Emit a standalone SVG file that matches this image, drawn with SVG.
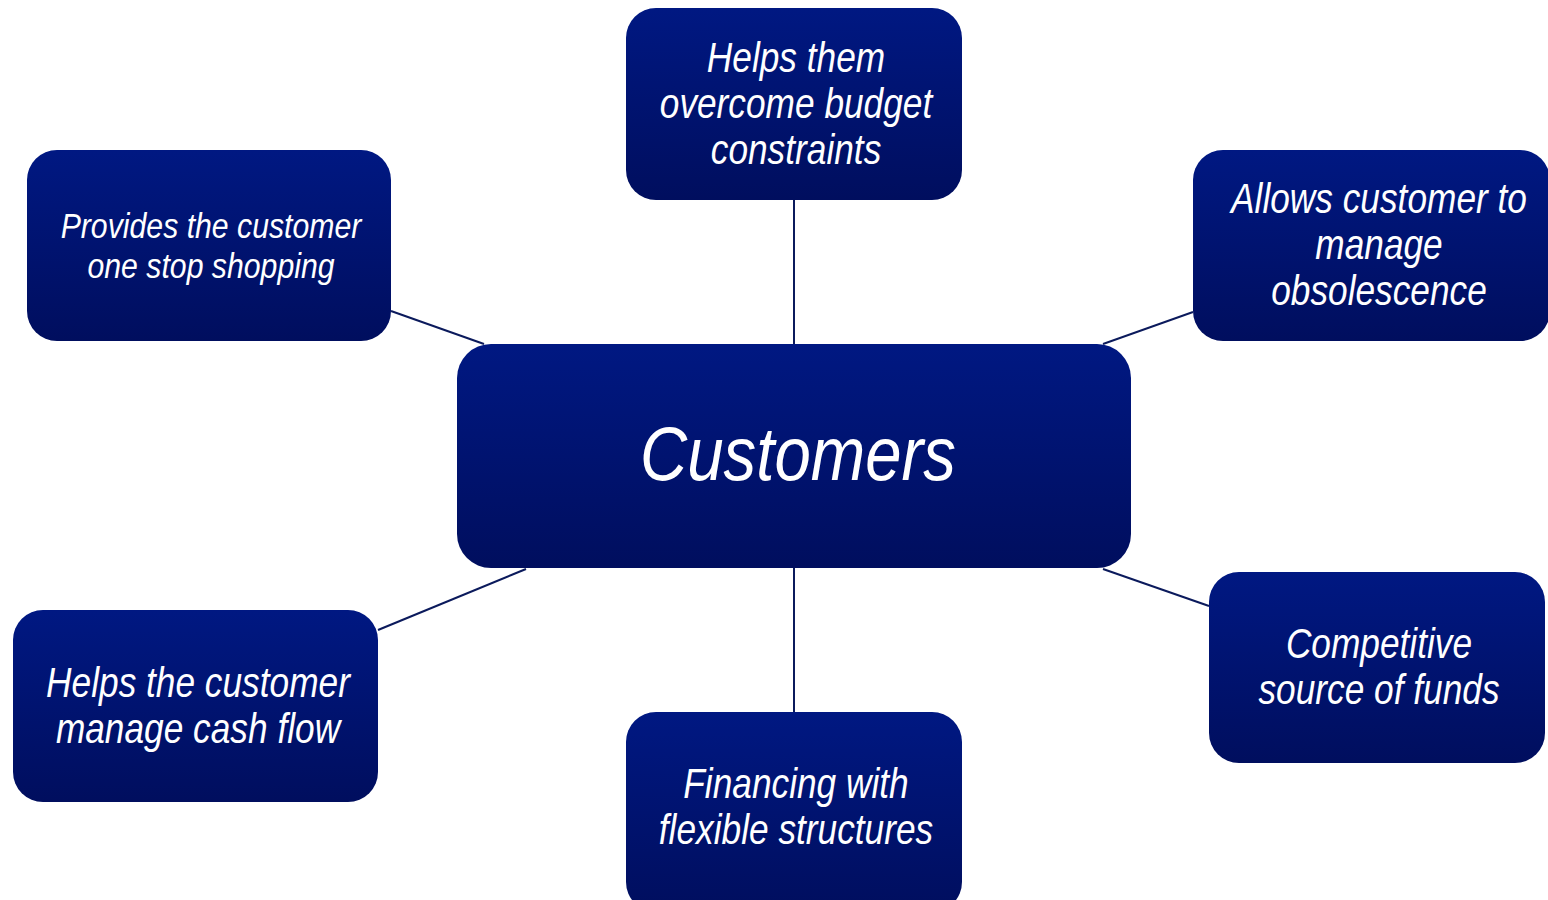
<svg xmlns="http://www.w3.org/2000/svg" width="1548" height="900" viewBox="0 0 1548 900">
<defs>
<linearGradient id="g" x1="0" y1="0" x2="0" y2="1">
<stop offset="0" stop-color="#001882"/>
<stop offset="1" stop-color="#000E5E"/>
</linearGradient>
<style>
.box{fill:url(#g);}
.t{font-family:"Liberation Sans",Arial,sans-serif;font-style:italic;fill:#ffffff;text-anchor:middle;font-size:42px;}
.s{font-size:36px;}
.c{font-size:76px;}
.ln{stroke:#0B1A5C;stroke-width:2;fill:none;}
</style>
</defs>
<rect width="1548" height="900" fill="#ffffff"/>
<g id="connectors">
<line class="ln" x1="794" y1="200" x2="794" y2="344"/>
<line class="ln" x1="794" y1="568" x2="794" y2="712"/>
<line class="ln" x1="391" y1="311" x2="484" y2="344"/>
<line class="ln" x1="1193" y1="312" x2="1103" y2="344"/>
<line class="ln" x1="378" y1="630" x2="526" y2="569"/>
<line class="ln" x1="1103" y1="569" x2="1209" y2="606"/>
</g>
<g id="center">
<rect class="box" x="457" y="344" width="674" height="224" rx="34"/>
<g transform="translate(798 0) scale(0.86 1)"><text class="t c" x="0" y="480">Customers</text></g>
</g>
<g id="top">
<rect class="box" x="626" y="8" width="336" height="192" rx="30"/>
<g transform="translate(796 0) scale(0.84 1)">
<text class="t" x="0" y="72">Helps them</text>
<text class="t" x="0" y="118">overcome budget</text>
<text class="t" x="0" y="164">constraints</text>
</g>
</g>
<g id="topleft">
<rect class="box" x="27" y="150" width="364" height="191" rx="30"/>
<g transform="translate(211 0) scale(0.84 1)">
<text class="t s" x="0" y="238">Provides the customer</text>
<text class="t s" x="0" y="278">one stop shopping</text>
</g>
</g>
<g id="topright">
<rect class="box" x="1193" y="150" width="357" height="191" rx="30"/>
<g transform="translate(1379 0) scale(0.84 1)">
<text class="t" x="0" y="213">Allows customer to</text>
<text class="t" x="0" y="259">manage</text>
<text class="t" x="0" y="305">obsolescence</text>
</g>
</g>
<g id="bottomleft">
<rect class="box" x="13" y="610" width="365" height="192" rx="30"/>
<g transform="translate(198 0) scale(0.84 1)">
<text class="t" x="0" y="697">Helps the customer</text>
<text class="t" x="0" y="743">manage cash flow</text>
</g>
</g>
<g id="bottomright">
<rect class="box" x="1209" y="572" width="336" height="191" rx="30"/>
<g transform="translate(1379 0) scale(0.84 1)">
<text class="t" x="0" y="658">Competitive</text>
<text class="t" x="0" y="704">source of funds</text>
</g>
</g>
<g id="bottom">
<rect class="box" x="626" y="712" width="336" height="200" rx="30"/>
<g transform="translate(796 0) scale(0.84 1)">
<text class="t" x="0" y="798">Financing with</text>
<text class="t" x="0" y="844">flexible structures</text>
</g>
</g>
</svg>
